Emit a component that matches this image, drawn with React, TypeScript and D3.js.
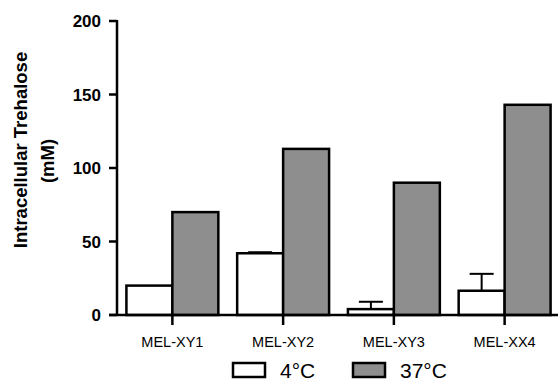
import React from 'react';
import * as d3 from 'd3';

// values
const strains = ['MEL-XY1', 'MEL-XY2', 'MEL-XY3', 'MEL-XX4'];
const cold = [20, 42, 4, 16.5];        // 4°C
const coldErr = [0, 0.7, 5, 11.5];
const warm = [70, 113, 90, 143];        // 37°C
const yTicks = [0, 50, 100, 150, 200];
const seriesNames = ['4°C', '37°C'];

const W = 558;
const H = 382;
const font = '"Liberation Sans", Arial, Helvetica, sans-serif';

const App = () => {
  const x0 = 117;
  const y = d3.scaleLinear().domain([0, 200]).range([315, 21]);
  const x = d3.scaleBand<string>()
    .domain(strains)
    .range([x0, 560])
    .paddingInner(0.17)
    .paddingOuter(0.085);
  const half = x.bandwidth() / 2;
  const fills = ['#ffffff', '#8e8e8e'];

  return (
    <svg width={W} height={H} style={{ position: 'absolute', left: 0, top: 0, background: '#fff' }}
      fontFamily={font}>
      {/* bars */}
      {strains.map((s, i) => {
        const left = x(s)!;
        const cx = left + half;
        return (
          <g key={s}>
            {coldErr[i] > 0 && (
              <g stroke="#000" strokeWidth={2}>
                <line x1={left + half / 2} x2={left + half / 2}
                  y1={y(cold[i])} y2={y(cold[i] + coldErr[i])} />
                <line x1={left + half / 2 - 12} x2={left + half / 2 + 12}
                  y1={y(cold[i] + coldErr[i])} y2={y(cold[i] + coldErr[i])} />
              </g>
            )}
            <rect x={left} y={y(cold[i])} width={half} height={y(0) - y(cold[i])}
              fill={fills[0]} stroke="#000" strokeWidth={2.5} />
            <rect x={cx} y={y(warm[i])} width={half} height={y(0) - y(warm[i])}
              fill={fills[1]} stroke="#000" strokeWidth={2.5} />
          </g>
        );
      })}

      {/* y axis */}
      <line x1={x0} x2={x0} y1={y(200) - 1} y2={y(0)} stroke="#000" strokeWidth={2.5} />
      {yTicks.map(t => (
        <g key={t}>
          <line x1={x0 - 8} x2={x0} y1={y(t)} y2={y(t)} stroke="#000" strokeWidth={2.5} />
          <text x={101} y={y(t)} dy="0.36em" textAnchor="end" fontSize={17} fontWeight="bold">{t}</text>
        </g>
      ))}

      {/* x axis */}
      <line x1={x0 - 8} x2={W} y1={y(0)} y2={y(0)} stroke="#000" strokeWidth={2.5} />
      {strains.map(s => {
        const cx = x(s)! + half;
        return (
          <g key={s}>
            <line x1={cx} x2={cx} y1={y(0)} y2={y(0) + 10} stroke="#000" strokeWidth={2.5} />
            <text x={cx} y={347} textAnchor="middle" fontSize={14.5}>{s}</text>
          </g>
        );
      })}

      {/* y label */}
      <g transform="translate(27,150) rotate(-90)">
        <text textAnchor="middle" fontSize={18.5} fontWeight="bold">Intracellular Trehalose</text>
      </g>
      <g transform="translate(54,161) rotate(-90)">
        <text textAnchor="middle" fontSize={18.5} fontWeight="bold">(mM)</text>
      </g>

      {/* legend */}
      {seriesNames.map((n, i) => {
        const bx = [233, 353][i];
        return (
          <g key={n}>
            <rect x={bx} y={363} width={32} height={14} fill={fills[i]} stroke="#000" strokeWidth={2.5} />
            <text x={bx + 47} y={378} fontSize={21}>{n}</text>
          </g>
        );
      })}
    </svg>
  );
};

export default App;
